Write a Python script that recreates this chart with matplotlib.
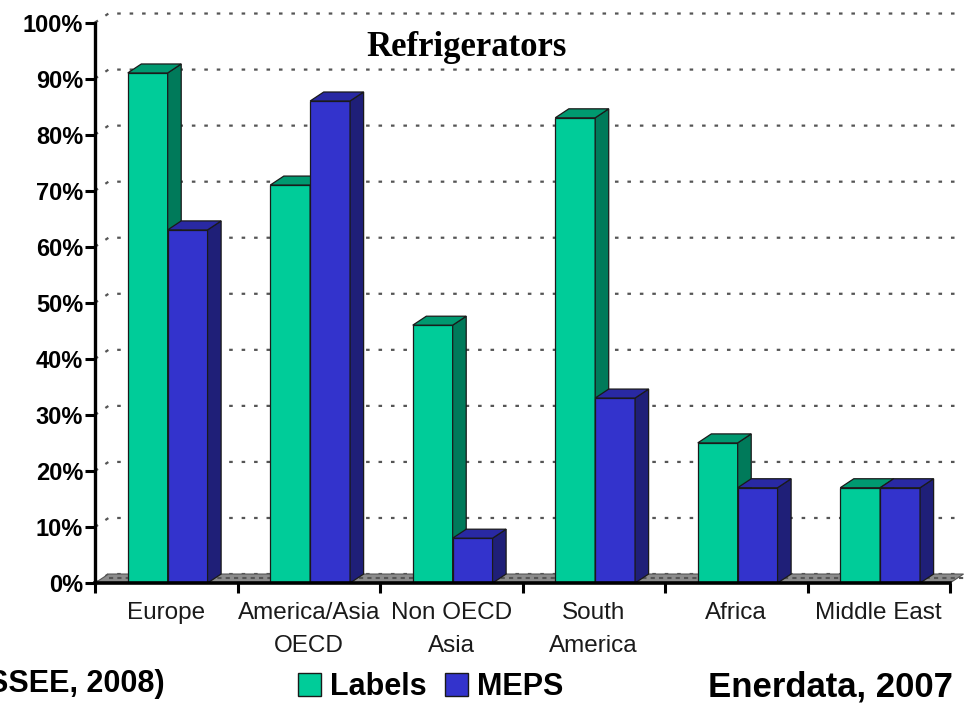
import numpy as np
import matplotlib.pyplot as plt
from matplotlib.patches import Polygon, Patch

# data
regions = ["Europe", "America/Asia\nOECD", "Non OECD\nAsia", "South\nAmerica",
           "Africa", "Middle East"]
labels_pct = [91, 71, 46, 83, 25, 17]
meps_pct = [63, 86, 8, 33, 17, 17]
yticks = [0, 10, 20, 30, 40, 50, 60, 70, 80, 90, 100]

# colours: front, top, side
green = ("#00cc99", "#009970", "#007a5a")
blue = ("#3333cc", "#2929a3", "#1f1f78")

DX = 0.095   # depth offset in category units
DY = 1.6     # depth offset in percent
BW = 0.28    # bar width
OFF = 0.51   # group centre inside the category

fig = plt.figure(figsize=(9.73, 7.07), dpi=100)
ax = fig.add_axes([95 / 973, 124 / 707, 855 / 973, 560.5 / 707])
ax.set_xlim(0, 6)
ax.set_ylim(0, 100)
for s in ax.spines.values():
    s.set_visible(False)

n = len(regions)

# back wall gridlines + left wall diagonals
for y in yticks:
    ax.plot([0, DX, n + DX * 0.8], [y, y + DY, y + DY], color="#555555",
            lw=1.6, linestyle=(0, (1.6, 4)), zorder=1, clip_on=False)

# floor
floor = Polygon([(0, 0), (n, 0), (n + DX, DY), (DX, DY)], closed=True,
                facecolor="#8c8c8c", edgecolor="#555555", lw=0.8, zorder=1.5,
                clip_on=False)
ax.add_patch(floor)
ax.plot([DX, n + DX], [DY * 0.6, DY * 0.6], color="#555555", lw=1.5,
        linestyle=(0, (2, 2)), zorder=1.6, clip_on=False)


def bar3d(x0, h, cols, z):
    x1 = x0 + BW
    ax.bar(x0, h, width=BW, align="edge", color=cols[0], edgecolor="#1a1a1a",
           lw=0.9, zorder=z)
    top = Polygon([(x0, h), (x1, h), (x1 + DX, h + DY), (x0 + DX, h + DY)],
                  closed=True, facecolor=cols[1], edgecolor="#1a1a1a", lw=0.9,
                  zorder=z, clip_on=False)
    side = Polygon([(x1, 0), (x1 + DX, DY), (x1 + DX, h + DY), (x1, h)],
                   closed=True, facecolor=cols[2], edgecolor="#1a1a1a", lw=0.9,
                   zorder=z, clip_on=False)
    ax.add_patch(side)
    ax.add_patch(top)


for i in range(n):
    c = i + OFF
    bar3d(c - BW, labels_pct[i], green, 3 + 2 * i)
    bar3d(c, meps_pct[i], blue, 4 + 2 * i)

# axes lines
ax.plot([0, 0], [0, 100], color="black", lw=2.4, zorder=20, clip_on=False)
ax.plot([0, n], [0, 0], color="black", lw=2.6, zorder=20, clip_on=False)

ax.set_yticks(yticks)
ax.set_yticklabels([f"{v}%" for v in yticks], fontsize=17, fontweight="bold",
                   family="Liberation Sans")
ax.tick_params(axis="y", direction="out", length=7, width=2.2, pad=1.5)

ax.set_xticks(np.arange(n) + 0.5)
ax.set_xticklabels(regions, fontsize=17.5, family="Liberation Sans",
                   linespacing=1.6, color="#1a1a1a")
ax.tick_params(axis="x", length=0, pad=14)
ax.set_xticks(np.arange(n + 1), minor=True)
ax.tick_params(axis="x", which="minor", direction="out", length=7, width=2.2)

ax.text(0.435, 0.955, "Refrigerators", transform=ax.transAxes, ha="center",
        va="center", fontsize=25, fontweight="bold", family="Liberation Serif")

handles = [Patch(facecolor=green[0], edgecolor="#1a1a1a", label="Labels"),
           Patch(facecolor=blue[0], edgecolor="#1a1a1a", label="MEPS")]
fig.legend(handles=handles, loc="center", bbox_to_anchor=(0.443, 0.028),
           ncol=2, frameon=False, handlelength=0.75, handleheight=0.75,
           handletextpad=0.3, columnspacing=0.6,
           prop={"family": "Liberation Sans", "weight": "bold", "size": 22})

fig.text(165 / 973, 1 - 684 / 707, "SSEE, 2008)", ha="right", va="center",
         fontsize=22, fontweight="bold", family="Liberation Sans")
fig.text(953 / 973, 1 - 687 / 707, "Enerdata, 2007", ha="right", va="center",
         fontsize=25, fontweight="bold", family="Liberation Sans")

fig.savefig("out.png", dpi=100)
